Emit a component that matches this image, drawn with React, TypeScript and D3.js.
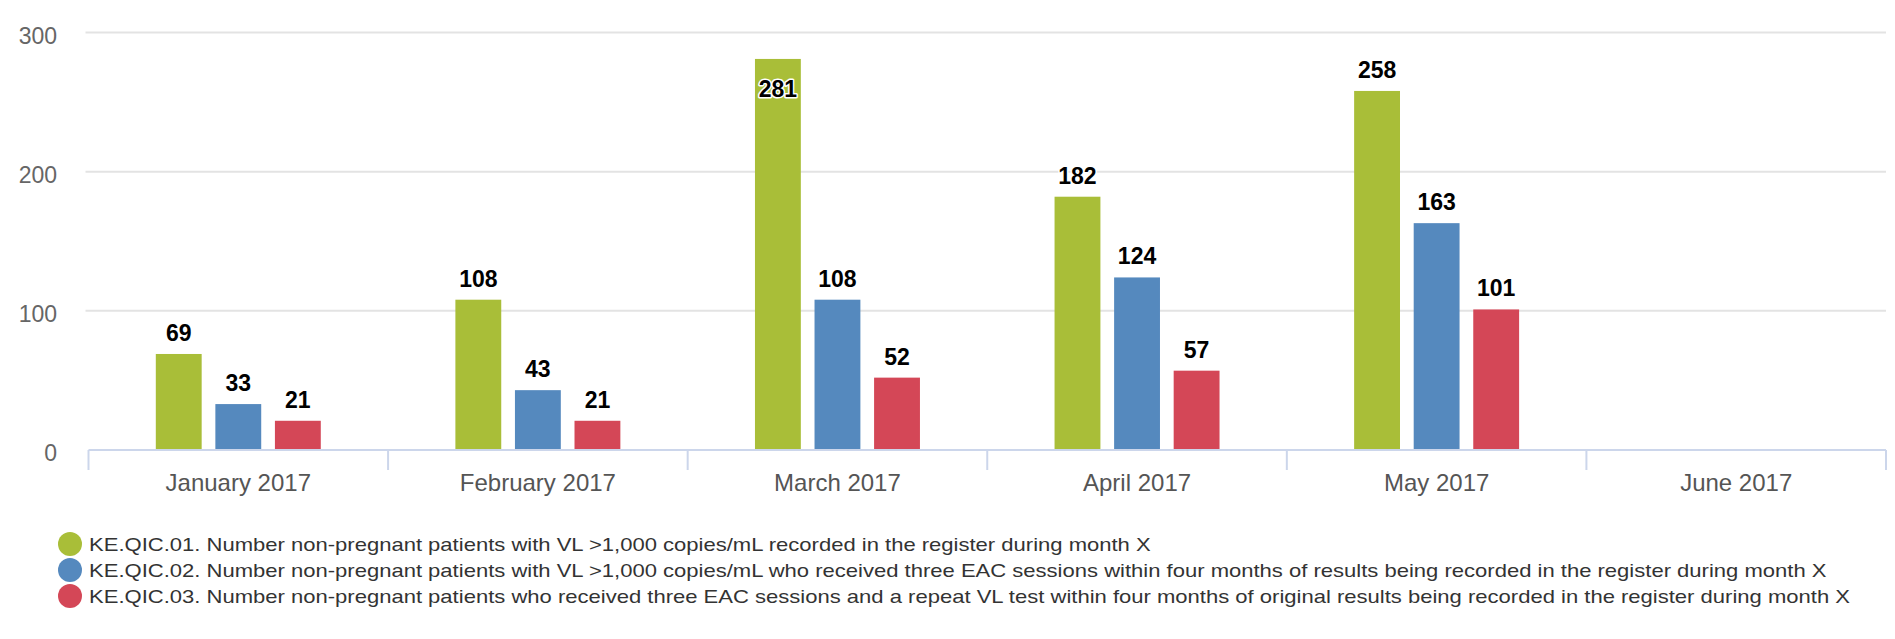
import React from "react";
import * as d3 from "d3";

const categories = ["January 2017", "February 2017", "March 2017", "April 2017", "May 2017", "June 2017"];
const qic01 = [69, 108, 281, 182, 258, null];
const qic02 = [33, 43, 108, 124, 163, null];
const qic03 = [21, 21, 52, 57, 101, null];
const seriesKeys = ["qic01", "qic02", "qic03"];
const seriesNames = [
  "KE.QIC.01. Number non-pregnant patients with VL >1,000 copies/mL recorded in the register during month X",
  "KE.QIC.02. Number non-pregnant patients with VL >1,000 copies/mL who received three EAC sessions within four months of results being recorded in the register during month X",
  "KE.QIC.03. Number non-pregnant patients who received three EAC sessions and a repeat VL test within four months of original results being recorded in the register during month X",
];
const seriesColors = ["#A9BE38", "#5589BE", "#D44757"];
const yTicks = [0, 100, 200, 300];

const W = 1895;
const H = 639;
const FONT = "'Liberation Sans', Arial, Helvetica, sans-serif";

export default function App() {
  const seriesValues = [qic01, qic02, qic03];
  const x0 = d3.scaleBand<string>().domain(categories).range([88.5, 1886]).padding(0);
  const x1 = d3
    .scaleBand<string>()
    .domain(seriesKeys)
    .range([0, x0.bandwidth()])
    .paddingInner(0.23)
    .paddingOuter(1.13);
  const y = d3.scaleLinear().domain([0, 300]).range([450, 32.5]);
  const plotLeft = x0.range()[0];
  const plotRight = x0.range()[1];
  const tickXs = categories.map((c) => x0(c) as number).concat([plotRight]);

  return (
    <svg
      width={W}
      height={H}
      style={{ position: "absolute", left: 0, top: 0, background: "#fff" }}
      fontFamily={FONT}
    >
      <rect x={0} y={0} width={W} height={H} fill="#fff" />
      {/* grid lines */}
      {yTicks
        .filter((t) => t !== 0)
        .map((t) => (
          <line
            key={"g" + t}
            x1={plotLeft - 3}
            x2={plotRight}
            y1={y(t)}
            y2={y(t)}
            stroke="#e3e3e3"
            strokeWidth={2}
          />
        ))}
      {/* y labels */}
      {yTicks.map((t) => (
        <text key={"yl" + t} x={57} y={y(t) + 11} textAnchor="end" fontSize={23} fill="#666">
          {t}
        </text>
      ))}
      {/* bars */}
      {seriesValues.map((vals, si) =>
        vals.map((v, ci) =>
          v == null ? null : (
            <rect
              key={"b" + si + "-" + ci}
              x={(x0(categories[ci]) as number) + (x1(seriesKeys[si]) as number)}
              y={y(v)}
              width={x1.bandwidth()}
              height={y(0) - y(v)}
              fill={seriesColors[si]}
            />
          )
        )
      )}
      {/* x axis */}
      <line x1={plotLeft} x2={plotRight} y1={y(0)} y2={y(0)} stroke="#ccd6eb" strokeWidth={2} />
      {tickXs.map((tx, i) => (
        <line key={"t" + i} x1={tx} x2={tx} y1={y(0)} y2={y(0) + 20} stroke="#ccd6eb" strokeWidth={2} />
      ))}
      {categories.map((c) => (
        <text
          key={"xl" + c}
          x={(x0(c) as number) + x0.bandwidth() / 2}
          y={491}
          textAnchor="middle"
          fontSize={24}
          fill="#555"
        >
          {c}
        </text>
      ))}
      {/* data labels */}
      {seriesValues.map((vals, si) =>
        vals.map((v, ci) => {
          if (v == null) return null;
          const cx = (x0(categories[ci]) as number) + (x1(seriesKeys[si]) as number) + x1.bandwidth() / 2;
          const top = y(v);
          let base = top - 13;
          if (base - 17 < y.range()[1]) base = top + 38;
          return (
            <text
              key={"dl" + si + "-" + ci}
              x={cx}
              y={base}
              textAnchor="middle"
              fontSize={23}
              fontWeight="bold"
              fill="#000"
              stroke="#fff"
              strokeWidth={3}
              strokeLinejoin="round"
              style={{ paintOrder: "stroke" }}
            >
              {v}
            </text>
          );
        })
      )}
      {/* legend */}
      {seriesNames.map((name, i) => {
        const cy = 544 + i * 26;
        return (
          <g key={"lg" + i}>
            <circle cx={70} cy={cy} r={12} fill={seriesColors[i]} />
            <text
              transform={`translate(89, ${cy + 7}) scale(1.16, 1)`}
              fontSize={19}
              fill="#333"
            >
              {name}
            </text>
          </g>
        );
      })}
    </svg>
  );
}
